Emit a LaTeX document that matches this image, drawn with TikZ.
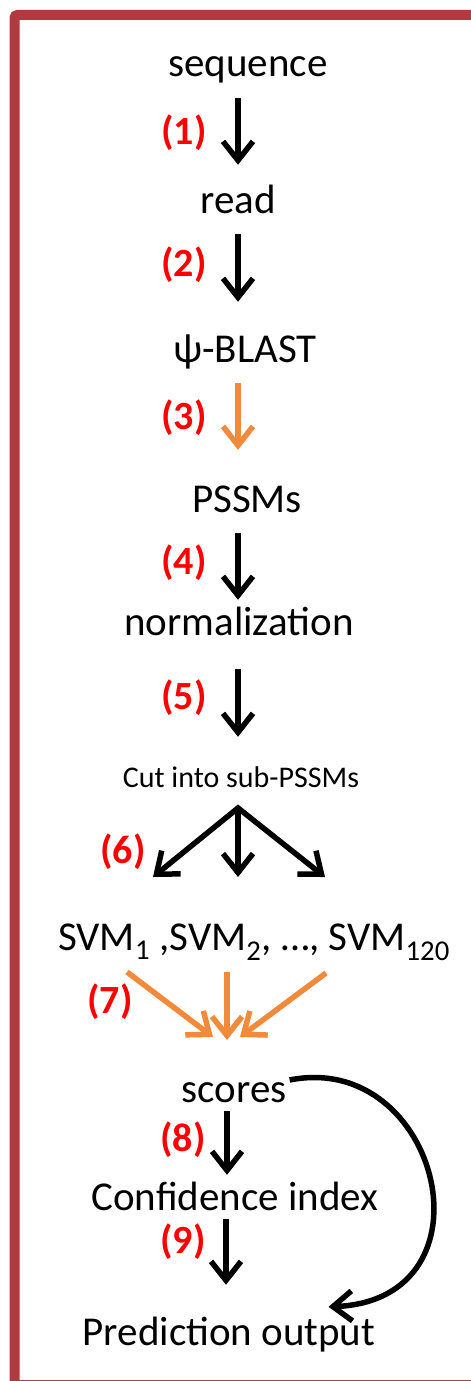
\documentclass[tikz,border=0pt]{standalone}
\usepackage{fontspec}
\setmainfont{Carlito}
\usetikzlibrary{arrows.meta}
\definecolor{framered}{HTML}{B03A3E}
\definecolor{arrorange}{HTML}{F28A3C}
\definecolor{labred}{HTML}{FF0000}
\begin{document}
\begin{tikzpicture}[x=1pt,y=-1pt,
  txt/.style={inner sep=0pt, anchor=base, text height=27pt, text depth=9pt, font=\fontsize{41}{49}\selectfont, text=black},
  smalltxt/.style={inner sep=0pt, anchor=base, text height=20pt, text depth=7pt, font=\fontsize{30}{36}\selectfont, text=black},
  lab/.style={inner sep=0pt, text=labred, font=\fontsize{40}{48}\selectfont\bfseries},
  blk/.style={line width=5.5pt, draw=black, -{Straight Barb[length=19pt,width=30pt]}},
  org/.style={line width=5.5pt, draw=arrorange, -{Straight Barb[length=19pt,width=30pt]}},
]
\useasboundingbox (0,0) rectangle (471,1381);
\clip (0,0) rectangle (471,1381);
\fill[white] (0,0) rectangle (471,1381);
\draw[framered, line width=10pt, rounded corners=3pt] (14.5,15) rectangle (495,1385);

% text nodes
\node[txt] (seq) at (248,77) {sequence};
\node[txt] (read) at (238,213) {read};
\node[txt] (blast) at (245,362) {ψ-BLAST};
\node[txt] (pssm) at (247,512) {PSSMs};
\node[txt] (norm) at (239,635) {normalization};
\node[smalltxt] (cut) at (241,787) {Cut into sub-PSSMs};
\node[txt] (svm) at (254,950) {SVM\textsubscript{1} ,SVM\textsubscript{2}, …, SVM\textsubscript{120}};
\node[txt] (scores) at (234,1102) {scores};
\node[txt] (conf) at (235,1210) {Confidence index};
\node[txt] (pred) at (229,1345) {Prediction output};

% labels
\node[lab] (l1) at (184,133) {(1)};
\node[lab] (l2) at (184,265) {(2)};
\node[lab] (l3) at (184,418) {(3)};
\node[lab] (l4) at (184,563) {(4)};
\node[lab] (l5) at (184,698) {(5)};
\node[lab] (l6) at (123,852) {(6)};
\node[lab] (l7) at (110,1002) {(7)};
\node[lab] (l8) at (183,1140) {(8)};
\node[lab] (l9) at (183,1242) {(9)};

% straight arrows
\draw[blk, shorten <=12pt, shorten >=21pt] (seq.south -| read.base) -- (read.north);
\draw[blk, shorten <=12pt, shorten >=33pt] (read.south) -- (read.south |- blast.north);
\draw[org, shorten <=12pt, shorten >=35pt] (blast.south -| read.base) -- (pssm.north -| read.base);
\draw[blk, shorten <=12pt, shorten >=8pt] (pssm.south -| read.base) -- (norm.north -| read.base);
\draw[blk, shorten <=25pt, shorten >=30pt] (norm.south -| read.base) -- (cut.north -| read.base);

% fan (6)
\coordinate (apex) at (238,808);
\coordinate (f6a) at (153,877);
\coordinate (f6b) at (238,877);
\coordinate (f6c) at (325,877);
\draw[line width=5.5pt, {Straight Barb[length=19pt,width=30pt]}-{Straight Barb[length=19pt,width=30pt]}] (f6a) -- (apex) -- (f6c);
\draw[blk] (apex) -- (f6b);

% fan (7)
\coordinate (s7a) at (127,972);
\coordinate (s7b) at (227,972);
\coordinate (s7c) at (326,973);
\coordinate (t7a) at (213,1037);
\coordinate (t7b) at (227,1040);
\coordinate (t7c) at (240,1037);
\draw[org] (s7a) -- (t7a);
\draw[org] (s7b) -- (t7b);
\draw[org] (s7c) -- (t7c);

% lower arrows
\draw[blk, shorten >=8pt] ([xshift=-7pt]scores.south) -- ([xshift=-8pt]conf.north);
\draw[blk, shorten >=33pt] ([xshift=-9pt]conf.south) -- ([xshift=-3pt]pred.north);
\draw[blk] ([shift={(3pt,13pt)}]scores.east) .. controls (440,1050) and (500,1300) .. ([shift={(-47pt,11pt)}]pred.north east);
\end{tikzpicture}
\end{document}
